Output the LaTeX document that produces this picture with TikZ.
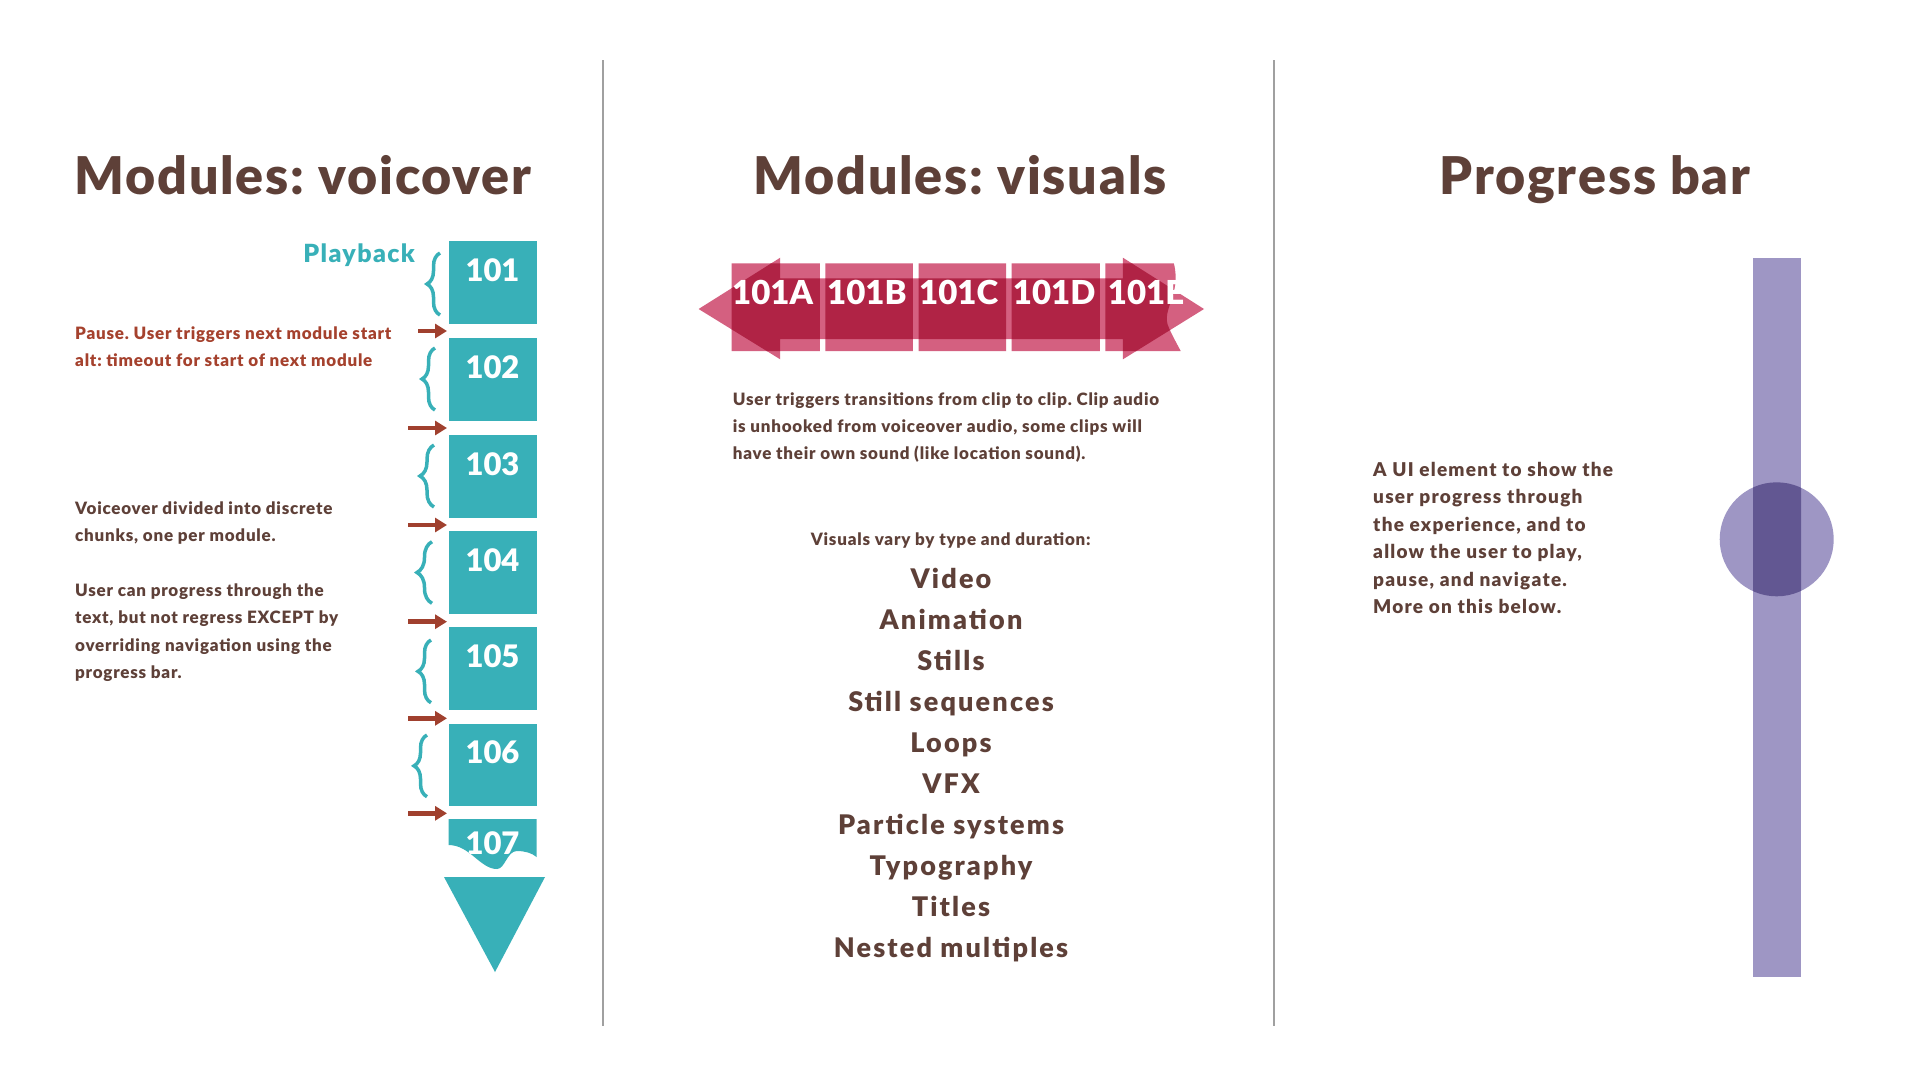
\documentclass[tikz,border=0pt]{standalone}
\usepackage{fontspec}
\setmainfont{Lato}
\newfontfamily\lblack{Lato Black}
\frenchspacing
\usetikzlibrary{arrows.meta,decorations.pathreplacing}
\definecolor{teal0}{HTML}{38B0B8}
\definecolor{rust}{HTML}{A0402E}
\definecolor{rusttext}{HTML}{A5412D}
\definecolor{brownc}{HTML}{5E4038}
\definecolor{pink0}{HTML}{D46080}
\definecolor{crim}{HTML}{B02345}
\definecolor{lpurp}{HTML}{9E96C4}
\definecolor{dpurp}{HTML}{625792}
\definecolor{sepc}{HTML}{A0A0A0}
\begin{document}
\begin{tikzpicture}[x=1pt,y=-1pt,
  title/.style={font=\lblack\fontsize{52}{60}\selectfont\addfontfeatures{LetterSpace=3.5}, text=brownc, inner sep=0, anchor=base},
  body/.style={font=\lblack\fontsize{17}{20}\selectfont\addfontfeatures{LetterSpace=4.5}, text=brownc, inner sep=0, anchor=base west},
  rbody/.style={body, text=rusttext},
  pbody/.style={body, font=\lblack\fontsize{19}{22}\selectfont\addfontfeatures{LetterSpace=6.5}},
  listitem/.style={font=\lblack\fontsize{27}{32}\selectfont\addfontfeatures{LetterSpace=8}, text=brownc, inner sep=0, anchor=base},
  mbox/.style={fill=teal0, minimum width=88pt, minimum height=82.5pt, inner sep=0, draw=none},
  boxlbl/.style={font=\lblack\fontsize{31}{36}\selectfont, text=white, inner sep=0, anchor=base},
  mlbl/.style={font=\lblack\fontsize{33}{40}\selectfont, text=white, inner sep=0, anchor=base west},
  brc/.style={draw=teal0, line width=3.5pt, decorate},
  rarr/.style={draw=rust, line width=4.5pt, -{Triangle[length=12pt,width=14pt]}},
  sepline/.style={draw=sepc, line width=1.2pt}
]
\path[use as bounding box, fill=white] (0,0) rectangle (1921,1080);

% separators
\draw[sepline] (603,60) -- (603,1026);
\draw[sepline] (1274,60) -- (1274,1026);

% titles
\node[title] (t1) at (303,194) {Modules: voicover};
\node[title] (t2) at (960,194) {Modules: visuals};
\node[title] (t3) at (1595,194) {Progress bar};

% ---------- left column ----------
\foreach \n/\t in {101/241,102/338,103/435,104/531,105/627,106/723.5} {
  \node[mbox] (b\n) at (492.5,\t+41.25) {};
  \node[boxlbl] (l\n) at (492.5,\t+40) {\n};
}
\fill[teal0] (448.5,819) -- (536.5,819) -- (536.5,857)
  .. controls (532,853) and (525,851) .. (517,851)
  .. controls (507,851) and (505,869) .. (497,869)
  .. controls (480,869) and (470,845) .. (448.5,845) -- cycle;
\begin{scope}
  \clip (448.5,819) -- (536.5,819) -- (536.5,857)
  .. controls (532,853) and (525,851) .. (517,851)
  .. controls (507,851) and (505,869) .. (497,869)
  .. controls (480,869) and (470,845) .. (448.5,845) -- cycle;
  \node[boxlbl] (l107) at (492.5,854) {107};
\end{scope}
\fill[teal0] (444,877) -- (545,877) -- (495,972) -- cycle;

% braces
\foreach \ex/\tip/\ya/\yb in {440/427/253/315, 435/422/348/410, 434/420/445/507, 432/417/541.7/603.3, 431/418/640/702.7, 427/414/735/796.7} {
  \pgfmathsetmacro{\amp}{\ex-\tip}
  \draw[brc, decoration={brace, amplitude=\amp pt}] (\ex,\yb) -- (\ex,\ya);
}

% pause arrows
\foreach \i/\xs/\y in {1/418/331, 2/408/428, 3/408/525, 4/408/621.7, 5/408/718.3, 6/408/813.3} {
  \coordinate (as\i) at (\xs,\y);
  \coordinate (ae\i) at (447,\y);
  \draw[rarr] (as\i) -- (ae\i);
}

% left texts
\node[font=\lblack\fontsize{25}{28}\selectfont\addfontfeatures{LetterSpace=5.5}, text=teal0, inner sep=0, anchor=base east] (play) at (415,262) {Playback};
\node[rbody] (p1) at (75,339) {Pause. User triggers next module start};
\node[rbody] (p2) at (75,366.7) {alt: timeout for start of next module};
\node[body] (v1) at (75,514) {Voiceover divided into discrete};
\node[body] (v2) at (75,541.5) {chunks, one per module.};
\node[body] (v3) at (75,596) {User can progress through the};
\node[body] (v4) at (75,623.5) {text, but not regress EXCEPT by};
\node[body] (v5) at (75,651) {overriding navigation using the};
\node[body] (v6) at (75,678.5) {progress bar.};

% ---------- middle column ----------
\def\boxesP{(731.7,263.3) rectangle (819.8,351) (825.3,263.3) rectangle (912.8,351) (918.6,263.3) rectangle (1006,351) (1011.6,263.3) rectangle (1099.8,351) (1105.3,263.3) -- (1173.8,263.3) .. controls (1182,295) and (1160,310) .. (1169,328) .. controls (1173,337) and (1177,344) .. (1180.7,351) -- (1105.3,351) -- cycle}
\def\arrowP{(698.6,309) -- (780.2,257.7) -- (780.2,278.3) -- (1122.9,278.3) -- (1122.9,257.7) -- (1204,309) -- (1122.9,359.3) -- (1122.9,339) -- (780.2,339) -- (780.2,359.3) -- cycle}
\fill[pink0] \boxesP;
\fill[pink0] \arrowP;
\begin{scope}
  \clip \boxesP;
  \fill[crim] \arrowP;
\end{scope}
\node[mlbl] (c1) at (732,304) {101A};
\node[mlbl] (c2) at (827,304) {101B};
\node[mlbl] (c3) at (919,304) {101C};
\node[mlbl] (c4) at (1012.7,304) {101D};
\node[mlbl] (c5) at (1107.7,304) {101E};

\node[body] (m1) at (732.7,405) {User triggers transitions from clip to clip. Clip audio};
\node[body] (m2) at (732.7,432.3) {is unhooked from voiceover audio, some clips will};
\node[body] (m3) at (732.7,459.5) {have their own sound (like location sound).};
\node[body, anchor=base] (m4) at (950.7,545) {Visuals vary by type and duration:};

\foreach \txt [count=\i from 0] in {Video, Animation, Stills, Still sequences, Loops, VFX, Particle systems, Typography, Titles, Nested multiples} {
  \node[listitem] (li\i) at (951,588.4+41.05*\i) {\txt};
}

% ---------- right column ----------
\def\barP{(1753,257.7) rectangle (1801,976.6)}
\def\knobP{(1776.7,539.3) circle (57pt)}
\fill[lpurp] \barP;
\fill[lpurp] \knobP;
\begin{scope}
  \clip \barP;
  \fill[dpurp] \knobP;
\end{scope}
\node[pbody] (r1) at (1373,476) {A UI element to show the};
\node[pbody] (r2) at (1373,503.5) {user progress through};
\node[pbody] (r3) at (1373,531) {the experience, and to};
\node[pbody] (r4) at (1373,558.5) {allow the user to play,};
\node[pbody] (r5) at (1373,586) {pause, and navigate.};
\node[pbody] (r6) at (1373,613.5) {More on this below.};
\end{tikzpicture}
\end{document}
